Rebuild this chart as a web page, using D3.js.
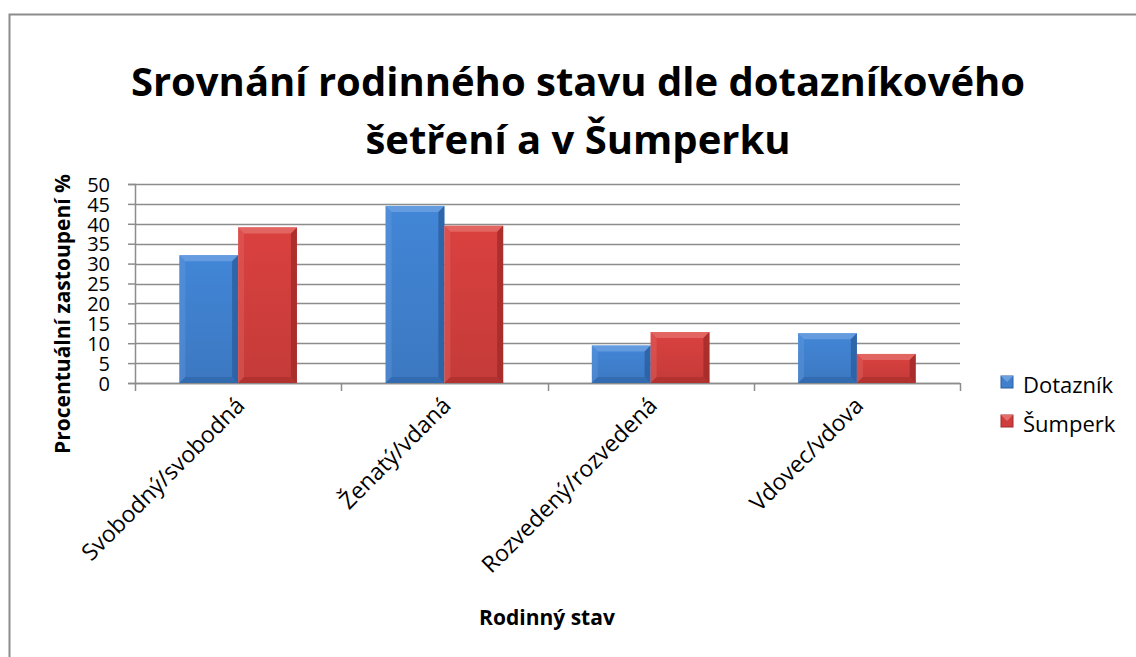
<!DOCTYPE html>
<html>
<head>
<meta charset="utf-8">
<script src="https://cdn.jsdelivr.net/npm/d3@7"></script>
<style>
  body { margin: 0; background: #fff; }
  svg { display: block; font-family: "Open Sans", "Noto Sans", sans-serif; }
</style>
</head>
<body>
<div id="chart"></div>
<script>
// Rodinný stav – dotazník vs. Šumperk (%)
const categories = ['Svobodný/svobodná', 'Ženatý/vdaná', 'Rozvedený/rozvedená', 'Vdovec/vdova'];
const seriesNames = ['Dotazník', 'Šumperk'];
const dotaznik = [32.1, 44.5, 9.4, 12.5];
const sumperk = [39.1, 39.5, 12.8, 7.3];
const yTicks = [0, 5, 10, 15, 20, 25, 30, 35, 40, 45, 50];
const titleLines = ['Srovnání rodinného stavu dle dotazníkového', 'šetření a v Šumperku'];

const width = 1136;
const height = 657;
const margin = { top: 184, right: 176, bottom: 274, left: 135 };

const svg = d3.select('#chart').append('svg')
    .attr('width', width)
    .attr('height', height);

// colours for the two series: [light, mid, dark]
const palette = {
    'Dotazník': ['#6b9fe0', '#3f7fcc', '#2a5e9f'],
    'Šumperk': ['#e46c69', '#cf3e3c', '#a02a28']
};

const defs = svg.append('defs');
seriesNames.forEach((name, i) => {
    const c = palette[name];
    const grad = defs.append('linearGradient')
        .attr('id', 'g' + i)
        .attr('x1', 0).attr('x2', 0).attr('y1', 0).attr('y2', 1);
    grad.append('stop').attr('offset', '0%').attr('stop-color', d3.color(c[1]).brighter(0.15));
    grad.append('stop').attr('offset', '100%').attr('stop-color', d3.color(c[1]).darker(0.15));
});

// outer frame (runs off the right and bottom edge like the original)
svg.append('path')
    .attr('d', `M9.5,${height + 5} V14.5 H${width + 5}`)
    .attr('fill', 'none')
    .attr('stroke', '#8c8c8c')
    .attr('stroke-width', 2);

// title
svg.append('text')
    .attr('x', 578)
    .attr('text-anchor', 'middle')
    .attr('font-weight', 'bold')
    .attr('font-size', 40)
    .attr('fill', '#000')
    .selectAll('tspan')
    .data(titleLines)
    .enter()
    .append('tspan')
    .attr('x', 578)
    .attr('y', (d, i) => 96 + i * 58)
    .text(d => d);

const innerW = width - margin.left - margin.right;
const innerH = height - margin.top - margin.bottom;

const g = svg.append('g')
    .attr('transform', `translate(${margin.left},${margin.top})`);

const x0 = d3.scaleBand().domain(categories).range([0, innerW]).paddingInner(0.43).paddingOuter(0.215);
const x1 = d3.scaleBand().domain(seriesNames).range([0, x0.bandwidth()]);
const y = d3.scaleLinear().domain([0, 50]).range([innerH, 0]);
const xCat = d3.scaleBand().domain(categories).range([0, innerW]);

// gridlines
g.append('g')
    .selectAll('line')
    .data(yTicks)
    .enter()
    .append('line')
    .attr('x1', 0)
    .attr('x2', innerW)
    .attr('y1', d => Math.round(y(d)) + 0.5)
    .attr('y2', d => Math.round(y(d)) + 0.5)
    .attr('stroke', '#8c8c8c')
    .attr('stroke-width', 1.5);

// y axis
const yAxis = g.append('g')
    .call(d3.axisLeft(y).tickValues(yTicks).tickSize(7).tickPadding(18));
yAxis.select('.domain').attr('stroke', '#8c8c8c').attr('stroke-width', 1.5);
yAxis.selectAll('.tick line').attr('stroke', '#8c8c8c').attr('stroke-width', 1.5);
yAxis.selectAll('.tick text')
    .attr('font-size', 20)
    .attr('font-family', '"Open Sans", sans-serif')
    .attr('fill', '#000')
    .attr('dy', '0.36em');

// x axis with ticks between categories
const xAxis = g.append('g')
    .attr('transform', `translate(0,${innerH})`);
xAxis.append('line')
    .attr('x1', 0).attr('x2', innerW)
    .attr('y1', 0.5).attr('y2', 0.5)
    .attr('stroke', '#8c8c8c').attr('stroke-width', 1.5);
const sepTicks = [0].concat(categories.map(c => xCat(c) + xCat.bandwidth()));
xAxis.selectAll('line.sep')
    .data(sepTicks)
    .enter()
    .append('line')
    .attr('class', 'sep')
    .attr('x1', d => Math.round(d) + 0.5)
    .attr('x2', d => Math.round(d) + 0.5)
    .attr('y1', 0)
    .attr('y2', 8)
    .attr('stroke', '#8c8c8c')
    .attr('stroke-width', 1.5);

// category labels rotated -45°
xAxis.selectAll('text.cat')
    .data(categories)
    .enter()
    .append('text')
    .attr('class', 'cat')
    .attr('transform', d => `translate(${xCat(d) + xCat.bandwidth() / 2 + 8},${24}) rotate(-45)`)
    .attr('text-anchor', 'end')
    .attr('font-size', 23)
    .attr('fill', '#000')
    .text(d => d);

// bars with a bevelled look
const data = categories.map((c, i) => ({ cat: c, values: [dotaznik[i], sumperk[i]] }));
const groups = g.append('g')
    .selectAll('g')
    .data(data)
    .enter()
    .append('g')
    .attr('transform', d => `translate(${x0(d.cat)},0)`);

const bars = groups.selectAll('g')
    .data(d => d.values.map((v, i) => ({ name: seriesNames[i], value: v, idx: i })))
    .enter()
    .append('g')
    .attr('transform', d => `translate(${x1(d.name)},${y(d.value)})`);

const bw = x1.bandwidth();
const bev = 6;

bars.append('rect')
    .attr('width', bw)
    .attr('height', d => innerH - y(d.value))
    .attr('fill', d => `url(#g${d.idx})`);

// top bevel
bars.append('path')
    .attr('d', `M0,0 H${bw} L${bw - bev},${bev} H${bev} Z`)
    .attr('fill', d => palette[d.name][0])
    .attr('opacity', 0.85);
// left bevel
bars.append('path')
    .attr('d', d => {
        const h = innerH - y(d.value);
        return `M0,0 L${bev},${bev} V${h - bev} L0,${h} Z`;
    })
    .attr('fill', d => palette[d.name][0])
    .attr('opacity', 0.35);
// right bevel
bars.append('path')
    .attr('d', d => {
        const h = innerH - y(d.value);
        return `M${bw},0 L${bw - bev},${bev} V${h - bev} L${bw},${h} Z`;
    })
    .attr('fill', d => palette[d.name][2])
    .attr('opacity', 0.8);
// bottom bevel
bars.append('path')
    .attr('d', d => {
        const h = innerH - y(d.value);
        return `M0,${h} L${bev},${h - bev} H${bw - bev} L${bw},${h} Z`;
    })
    .attr('fill', d => palette[d.name][2])
    .attr('opacity', 0.5);

// axis titles
svg.append('text')
    .attr('x', 547)
    .attr('y', 625)
    .attr('text-anchor', 'middle')
    .attr('font-weight', 'bold')
    .attr('font-size', 21)
    .attr('fill', '#000')
    .text('Rodinný stav');

svg.append('text')
    .attr('transform', 'translate(70,314) rotate(-90)')
    .attr('text-anchor', 'middle')
    .attr('font-weight', 'bold')
    .attr('font-size', 21)
    .attr('fill', '#000')
    .text('Procentuální zastoupení %');

// legend
const legend = svg.append('g')
    .attr('transform', 'translate(1001,376)');
const li = legend.selectAll('g')
    .data(seriesNames)
    .enter()
    .append('g')
    .attr('transform', (d, i) => `translate(0,${i * 39})`);
li.append('rect')
    .attr('width', 12)
    .attr('height', 12)
    .attr('fill', d => palette[d][1])
    .attr('stroke', d => palette[d][2])
    .attr('stroke-width', 1);
li.append('path')
    .attr('d', 'M0,0 H12 L6,6 Z')
    .attr('fill', d => palette[d][0]);
li.append('text')
    .attr('x', 22)
    .attr('y', 9)
    .attr('dy', '0.36em')
    .attr('font-size', 22)
    .attr('fill', '#000')
    .text(d => d);
</script>
</body>
</html>
